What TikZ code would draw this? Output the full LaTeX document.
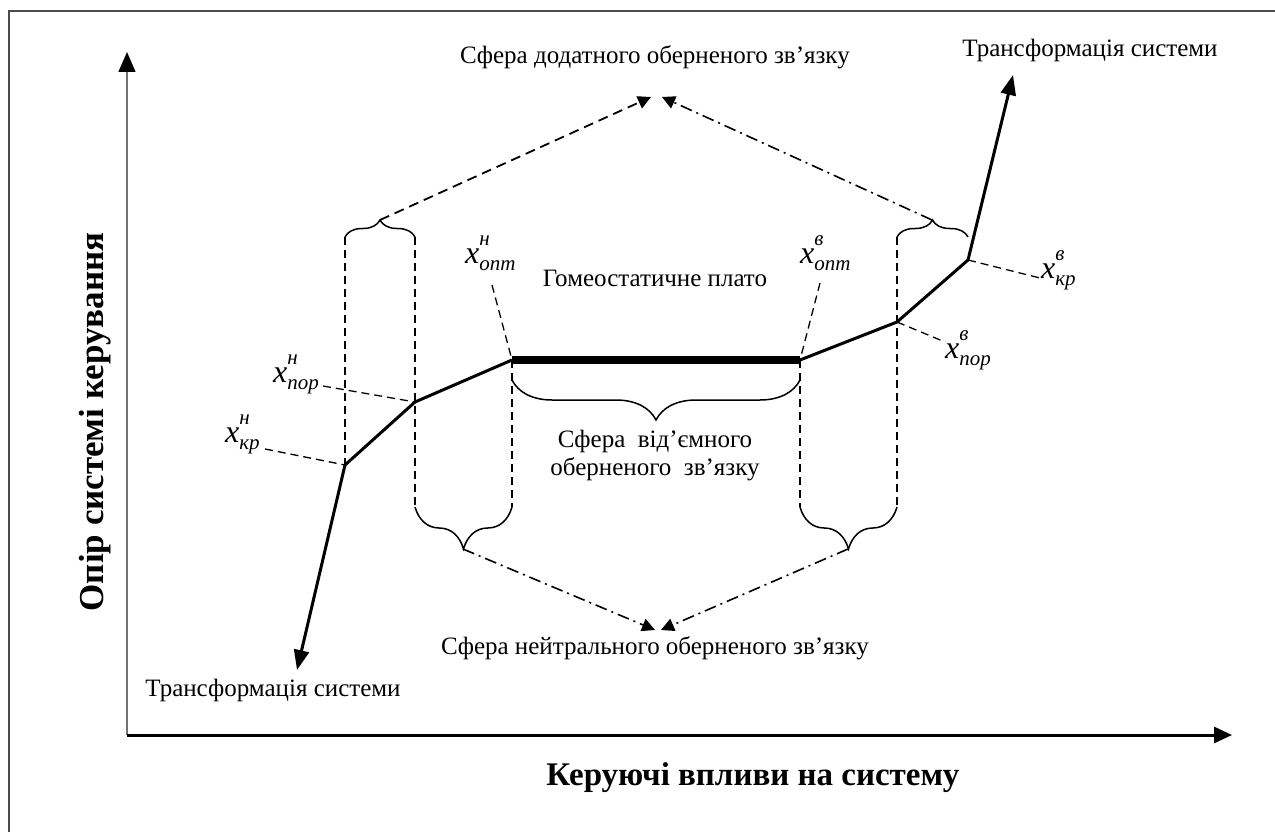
\documentclass[tikz,border=0pt]{standalone}
\usepackage{fontspec}
\setmainfont{Liberation Serif}
\usetikzlibrary{arrows.meta,decorations.pathreplacing}
\newcommand{\xlab}[2]{x\rlap{\raisebox{18pt}{\fontsize{21}{21}\selectfont #1}}\raisebox{-7pt}{\fontsize{21}{21}\selectfont #2}}
\begin{document}
\begin{tikzpicture}[x=1pt,y=-1pt,
 curve/.style={line width=3pt, line join=miter},
 guide/.style={line width=1.3pt, dash pattern=on 8pt off 5pt},
 topdash/.style={line width=1.8pt, dash pattern=on 10pt off 6pt},
 dashdot/.style={line width=1.6pt, dash pattern=on 12pt off 5pt on 2pt off 5pt},
 bigtri/.style={-{Triangle[length=20pt,width=15pt]}},
 smalltri/.style={-{Triangle[length=13pt,width=13pt]}},
 lbl/.style={font=\fontsize{25}{28}\selectfont, inner sep=0pt},
 ttl/.style={font=\fontsize{33}{36}\selectfont\bfseries, inner sep=0pt},
 mlab/.style={font=\fontsize{32}{34}\selectfont\itshape, inner sep=0pt, anchor=base west},
 brc/.style={decorate, decoration={brace, amplitude=#1}, line width=1.5pt},
 brc/.default=17
]
\useasboundingbox (0,0) rectangle (1275,832);
% frame
\draw[gray!60!black, line width=2.5pt] (9,832) -- (9,11) -- (1275,11);
% axes
\coordinate (O) at (127,735);
\coordinate (Ytip) at (127,52);
\coordinate (Xtip) at (1232,735);
\draw[line width=1.5pt, black!55, -{Triangle[length=20pt,width=17pt,color=black]}] (O) -- (Ytip);
\draw[line width=3pt, -{Triangle[length=18pt,width=16pt]}] (O) -- (Xtip);
% curve points
\coordinate (A) at (297,670);
\coordinate (B) at (345,465);
\coordinate (C) at (415,402);
\coordinate (D) at (512,360);
\coordinate (E) at (800,360);
\coordinate (F) at (897,322);
\coordinate (G) at (968,260);
\coordinate (H) at (1013,75);
% guide ends
\coordinate (g1t) at (345,237);
\coordinate (g2t) at (415,237);
\coordinate (g2b) at (415,507);
\coordinate (g3b) at (512,507);
\coordinate (g4b) at (800,507);
\coordinate (g5t) at (897,237);
\coordinate (g5b) at (897,507);
\coordinate (g6t) at (968,237);
\coordinate (m1) at (800,380);
\coordinate (m2) at (512,380);
% brace tips
\coordinate (tl) at (380,220);
\coordinate (tr) at (932,220);
\coordinate (bl) at (463,549);
\coordinate (br) at (848,549);
\coordinate (topL) at (651,97);
\coordinate (topR) at (662,97);
\coordinate (botL) at (655,630);
\coordinate (botR) at (661,630);
% dashed verticals
\draw[guide] (g1t) -- (B);
\draw[guide] (g2t) -- (g2b);
\draw[guide] (D) -- (g3b);
\draw[guide] (E) -- (g4b);
\draw[guide] (g5t) -- (g5b);
% braces
\draw[brc=17] (g1t) -- (g2t);
\draw[brc=17] (g5t) -- (g6t);
\draw[brc=40] (m1) -- (m2);
\draw[brc=42] (g3b) -- (g2b);
\draw[brc=42] (g5b) -- (g4b);
% curve
\draw[curve, bigtri] (B) -- (A);
\draw[curve] (B) -- (C) -- (D);
\draw[line width=8pt] (D) -- (E);
\draw[curve] (E) -- (F) -- (G);
\draw[curve, bigtri] (G) -- (H);
% feedback arrows
\draw[topdash, smalltri] (tl) -- (topL);
\draw[dashdot, smalltri] (tr) -- (topR);
\draw[dashdot, smalltri] (bl) -- (botL);
\draw[dashdot, smalltri] (br) -- (botR);
% point labels
\node[mlab] (pn) at (273,382) {\xlab{н}{пор}};
\node[mlab] (kn) at (225,442) {\xlab{н}{кр}};
\node[mlab] (on) at (465,263) {\xlab{н}{опт}};
\node[mlab] (ov) at (800,263) {\xlab{в}{опт}};
\node[mlab] (pv) at (945,358) {\xlab{в}{пор}};
\node[mlab] (kv) at (1041,278) {\xlab{в}{кр}};
\coordinate (lpn) at (323,386);
\coordinate (lkn) at (265,449);
\coordinate (lon) at (492,285);
\coordinate (lov) at (820,283);
\coordinate (lpv) at (945,342);
\coordinate (lkv) at (1040,278);
\draw[guide] (lpn) -- (C);
\draw[guide] (lkn) -- (B);
\draw[guide] (lon) -- (D);
\draw[guide] (lov) -- (E);
\draw[guide] (F) -- (lpv);
\draw[guide] (G) -- (lkv);
% texts
\node[lbl] (t1) at (655,57) {Сфера додатного оберненого зв’язку};
\node[lbl] (t2) at (1090,50) {Трансформація системи};
\node[lbl] (t3) at (655,278) {Гомеостатичне плато};
\node[lbl, align=center] (t4) at (655,456) {Сфера\ \ від’ємного\\оберненого\ \ зв’язку};
\node[lbl] (t5) at (655,648) {Сфера нейтрального оберненого зв’язку};
\node[lbl] (t6) at (273,690) {Трансформація системи};
\node[ttl] (t7) at (753,778) {Керуючі впливи на систему};
\node[ttl, rotate=90, font=\fontsize{35}{38}\selectfont\bfseries] (t8) at (95,422) {Опір системі керування};
\end{tikzpicture}
\end{document}
